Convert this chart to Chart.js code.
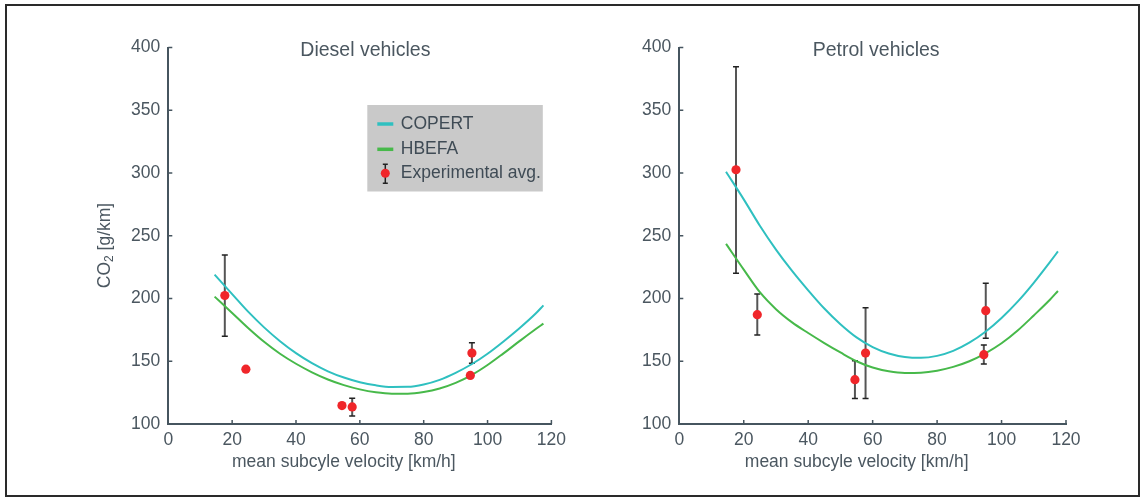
<!DOCTYPE html>
<html>
<head>
<meta charset="utf-8">
<script src="https://cdn.jsdelivr.net/npm/chart.js@4.4.0/dist/chart.umd.min.js"></script>
<style>
  html, body { margin: 0; padding: 0; background: #fff; }
  #pagina { position: relative; width: 1145px; height: 499px; overflow: hidden; }
  #marco { position: absolute; left: 5px; top: 4px; width: 1131px; height: 489px; border: 2px solid #2a2a2a; }
  canvas { position: absolute; top: 0; }
</style>
</head>
<body>
<div id="pagina">
  <div id="marco"></div>
  <canvas id="graficoDiesel" width="572" height="499" style="left:0"></canvas>
  <canvas id="graficoPetrol" width="573" height="499" style="left:572px"></canvas>
</div>
<script>
// Ejes
const ticksVelocidad = [0, 20, 40, 60, 80, 100, 120];
const ticksCO2 = [100, 150, 200, 250, 300, 350, 400];

// Curvas de los modelos (velocidad media en km/h)
const velocidades = [14.5, 20, 25, 30, 35, 40, 45, 50, 55, 60, 65, 70, 75, 80, 85, 90, 95, 100, 105, 110, 115, 117.5];
const dieselCopert = [219, 203.5, 189.5, 177, 166, 156.5, 148.5, 142, 137, 133.3, 130.8, 129.5, 129.6, 131.5, 135.2, 140.8, 147.6, 156, 165.8, 176.3, 187.8, 194.5];
const dieselHbefa  = [201.5, 188.5, 176.5, 165.5, 156, 148, 141.2, 135.5, 131, 127.6, 125.3, 124.2, 124.2, 125.5, 128.3, 132.8, 139, 147, 156.3, 166, 175.5, 180];
const petrolCopert = [301, 279, 258, 239, 222, 206.5, 192, 179.5, 169, 161.3, 156.2, 153.4, 152.7, 154.3, 158.3, 164.8, 173.5, 184.5, 197.5, 212.5, 229, 237.5];
const petrolHbefa  = [243.5, 223, 205, 191.5, 181, 172.5, 164.5, 157, 150, 145, 142, 140.7, 140.9, 142.5, 145.5, 150, 156.3, 164.3, 174.5, 186.5, 199, 206];

// Promedios experimentales con sus barras de error (null = sin barra)
const dieselVel = [17.7, 24.3, 54.4, 57.6, 95.1, 94.6];
const dieselMedia = [202.4, 143.7, 114.7, 113.6, 156.5, 138.7];
const dieselMin = [170, null, null, 106.4, 148.5, null];
const dieselMax = [234.7, null, null, 120.6, 164.8, null];

const petrolVel = [17.6, 24.2, 54.5, 57.8, 95.1, 94.5];
const petrolMedia = [302.6, 187.1, 135.3, 156.5, 190.3, 155.2];
const petrolMin = [220.1, 170.9, 120.4, 120.4, 168.3, 147.8];
const petrolMax = [384.6, 203.6, 150.4, 192.6, 212.1, 163.0];

const FUENTE = '"Liberation Sans", Arial, Helvetica, sans-serif';
const COLOR_EJE = '#46555f';
const COLOR_TEXTO = '#4b5760';
const CIAN = '#2fc0c0';
const VERDE = '#47b94a';
const ROJO = '#f0262a';

function puntos(xs, ys) {
    return xs.map((x, i) => ({ x: x, y: ys[i] }));
}

// Dibuja barras de error, marcas interiores, títulos y la leyenda
const decoracion = {
    id: 'decoracion',
    beforeDatasetsDraw(chart, args, opts) {
        const ctx = chart.ctx;
        const sx = chart.scales.x, sy = chart.scales.y;
        ctx.save();
        opts.media.forEach((m, i) => {
            if (opts.min[i] == null) return;
            const px = sx.getPixelForValue(opts.vel[i]);
            const y1 = sy.getPixelForValue(opts.min[i]);
            const y2 = sy.getPixelForValue(opts.max[i]);
            ctx.strokeStyle = '#555';
            ctx.lineWidth = 2;
            ctx.beginPath();
            ctx.moveTo(px, y1);
            ctx.lineTo(px, y2);
            ctx.stroke();
            ctx.strokeStyle = '#222';
            ctx.lineWidth = 1.5;
            ctx.beginPath();
            ctx.moveTo(px - 3, y1); ctx.lineTo(px + 3, y1);
            ctx.moveTo(px - 3, y2); ctx.lineTo(px + 3, y2);
            ctx.stroke();
        });
        ctx.restore();
    },
    afterDraw(chart, args, opts) {
        const ctx = chart.ctx;
        const area = chart.chartArea;
        const sx = chart.scales.x, sy = chart.scales.y;
        ctx.save();

        // marcas hacia dentro, estilo MATLAB
        ctx.strokeStyle = COLOR_EJE;
        ctx.lineWidth = 1.5;
        ctx.beginPath();
        ticksVelocidad.slice(1).forEach(v => {
            const px = sx.getPixelForValue(v);
            ctx.moveTo(px, area.bottom);
            ctx.lineTo(px, area.bottom - 4);
        });
        ticksCO2.slice(1).forEach(v => {
            const py = sy.getPixelForValue(v);
            ctx.moveTo(area.left, py);
            ctx.lineTo(area.left + 4, py);
        });
        ctx.stroke();

        const centro = (area.left + area.right) / 2;
        ctx.fillStyle = COLOR_TEXTO;
        ctx.textAlign = 'center';
        ctx.textBaseline = 'alphabetic';
        ctx.font = '19.5px ' + FUENTE;
        ctx.fillText(opts.titulo, centro + opts.despTitulo, 55.5);
        ctx.font = '17.5px ' + FUENTE;
        ctx.fillText('mean subcyle velocity [km/h]', centro - 16, 467);

        if (opts.tituloY) {
            ctx.translate(area.left - 63, 245.5);
            ctx.rotate(-Math.PI / 2);
            ctx.textBaseline = 'middle';
            ctx.textAlign = 'left';
            const grande = '17.5px ' + FUENTE, peq = '12px ' + FUENTE;
            ctx.font = grande;
            const wCO = ctx.measureText('CO').width;
            const wResto = ctx.measureText(' [g/km]').width;
            ctx.font = peq;
            const w2 = ctx.measureText('2').width;
            let x0 = -(wCO + w2 + wResto) / 2;
            ctx.font = grande;
            ctx.fillText('CO', x0, 0);
            ctx.font = peq;
            ctx.fillText('2', x0 + wCO, 4);
            ctx.font = grande;
            ctx.fillText(' [g/km]', x0 + wCO + w2, 0);
            ctx.setTransform(1, 0, 0, 1, 0, 0);
        }

        if (opts.leyenda) {
            const bx = area.left + 199, by = area.top + 57.5;
            ctx.fillStyle = '#c9c9c9';
            ctx.fillRect(bx, by, 175.5, 86.5);
            const filas = [by + 19, by + 44.3, by + 68.3];
            const ds = chart.data.datasets;
            ctx.font = '17.5px ' + FUENTE;
            ctx.textAlign = 'left';
            ctx.textBaseline = 'middle';
            [0, 1].forEach(k => {
                ctx.strokeStyle = ds[k].borderColor;
                ctx.lineWidth = 3.5;
                ctx.beginPath();
                ctx.moveTo(bx + 10, filas[k]);
                ctx.lineTo(bx + 26, filas[k]);
                ctx.stroke();
                ctx.fillStyle = '#3f4b55';
                ctx.fillText(ds[k].label, bx + 33.5, filas[k]);
            });
            const ex = bx + 18, ey = filas[2];
            ctx.strokeStyle = '#222';
            ctx.lineWidth = 1.5;
            ctx.beginPath();
            ctx.moveTo(ex, ey - 9); ctx.lineTo(ex, ey + 10);
            ctx.moveTo(ex - 2.5, ey - 9); ctx.lineTo(ex + 2.5, ey - 9);
            ctx.moveTo(ex - 2.5, ey + 10); ctx.lineTo(ex + 2.5, ey + 10);
            ctx.stroke();
            ctx.fillStyle = ROJO;
            ctx.beginPath();
            ctx.arc(ex, ey, 4.5, 0, Math.PI * 2);
            ctx.fill();
            ctx.fillStyle = '#3f4b55';
            ctx.fillText(ds[2].label, bx + 33.5, ey);
        }
        ctx.restore();
    }
};

function crearGrafico(id, copert, hbefa, vel, media, min, max, extra) {
    const ctx = document.getElementById(id).getContext('2d');
    return new Chart(ctx, {
        type: 'scatter',
        data: {
            datasets: [
                {
                    type: 'line', label: 'COPERT', data: puntos(velocidades, copert),
                    borderColor: CIAN, borderWidth: 2, pointRadius: 0,
                    cubicInterpolationMode: 'monotone', fill: false, order: 2
                },
                {
                    type: 'line', label: 'HBEFA', data: puntos(velocidades, hbefa),
                    borderColor: VERDE, borderWidth: 2, pointRadius: 0,
                    cubicInterpolationMode: 'monotone', fill: false, order: 3
                },
                {
                    label: 'Experimental avg.', data: puntos(vel, media),
                    backgroundColor: ROJO, borderWidth: 0, pointRadius: 4.6, order: 1
                }
            ]
        },
        options: {
            responsive: false,
            animation: false,
            layout: { padding: { left: extra.izq, right: extra.der, top: 47.5, bottom: 0 } },
            scales: {
                x: {
                    type: 'linear', min: 0, max: 120,
                    afterBuildTicks: s => { s.ticks = ticksVelocidad.map(v => ({ value: v })); },
                    afterFit: s => { s.height = 75; },
                    grid: { drawOnChartArea: false, drawTicks: false },
                    border: { color: COLOR_EJE, width: 2 },
                    ticks: { padding: 6, color: COLOR_TEXTO, font: { family: FUENTE, size: 17.5 } }
                },
                y: {
                    type: 'linear', min: 100, max: 400,
                    afterBuildTicks: s => { s.ticks = ticksCO2.map(v => ({ value: v })); },
                    afterFit: s => { s.width = 68; },
                    grid: { drawOnChartArea: false, drawTicks: false },
                    border: { color: COLOR_EJE, width: 2 },
                    ticks: { padding: 8, color: COLOR_TEXTO, font: { family: FUENTE, size: 17.5 } }
                }
            },
            plugins: {
                legend: { display: false },
                tooltip: { enabled: false },
                decoracion: {
                    titulo: extra.titulo, despTitulo: extra.despTitulo,
                    tituloY: extra.tituloY, leyenda: extra.leyenda,
                    vel: vel, media: media, min: min, max: max
                }
            }
        },
        plugins: [decoracion]
    });
}

window.onload = function () {
    crearGrafico('graficoDiesel', dieselCopert, dieselHbefa, dieselVel, dieselMedia, dieselMin, dieselMax,
        { izq: 100.3, der: 16, titulo: 'Diesel vehicles', despTitulo: 5.5, tituloY: true, leyenda: true });
    crearGrafico('graficoPetrol', petrolCopert, petrolHbefa, petrolVel, petrolMedia, petrolMin, petrolMax,
        { izq: 39.3, der: 79, titulo: 'Petrol vehicles', despTitulo: 3.5, tituloY: false, leyenda: false });
};
</script>
</body>
</html>
